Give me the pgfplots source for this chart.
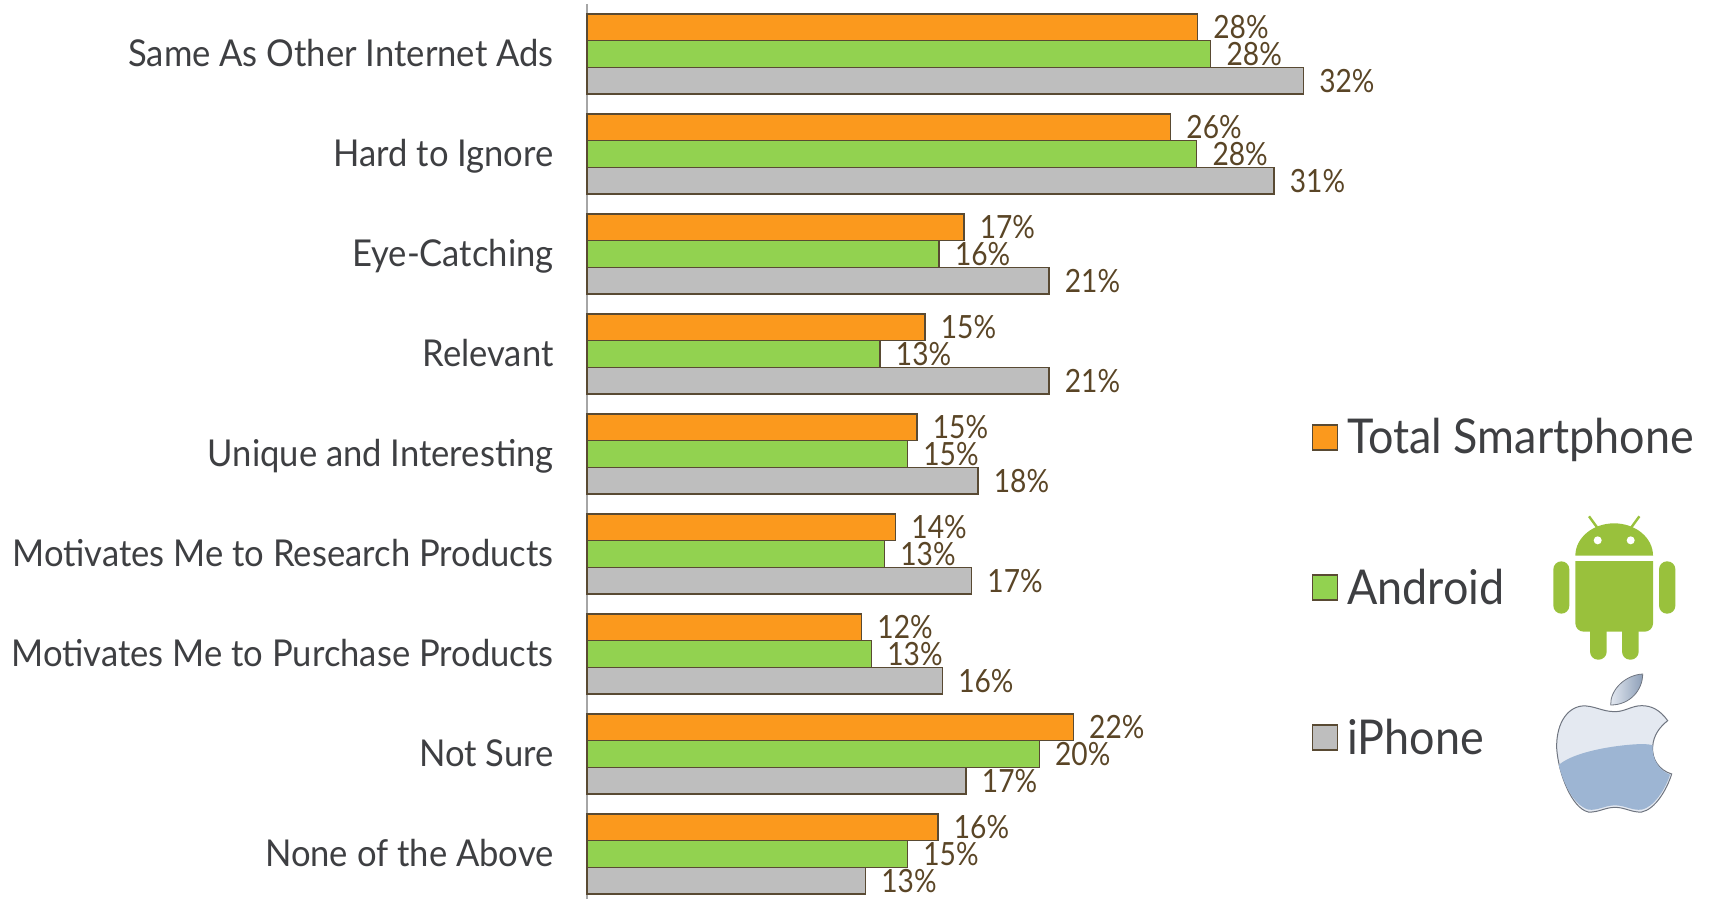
\documentclass[border=0pt]{standalone}
\usepackage{fontspec}
\setmainfont{Lato}
\newfontfamily\narrowfont[FakeStretch=0.935]{Lato}
\newfontfamily\valuefont[FakeStretch=0.88]{Lato}
\usepackage{pgfplots}
\pgfplotsset{compat=1.18}
\definecolor{barorange}{HTML}{FB991D}
\definecolor{bargreen}{HTML}{92D250}
\definecolor{bargray}{HTML}{BEBEBE}
\definecolor{baredge}{HTML}{594A33}
\definecolor{valuebrown}{HTML}{5A4526}
\definecolor{labelgray}{HTML}{3E3F42}
\definecolor{robot}{HTML}{99C13C}
\definecolor{applelow}{HTML}{9DB5D3}
\definecolor{applehigh}{HTML}{E4E9F1}
\definecolor{appleedge}{HTML}{6F7580}
\definecolor{leafdark}{HTML}{8D9FB8}
\pgfplotsset{
  swatch/.style={legend image code/.code={
    \draw[##1,line width=0.9pt] (0pt,-6pt) rectangle (12.5pt,6.5pt);
    \path[draw=none,fill=none] (0pt,0pt) -- (15.5pt,0pt);}},
}
\begin{document}
\begin{tikzpicture}
\useasboundingbox (0,0) rectangle (856pt,449.5pt);
\begin{axis}[
  at={(293.5pt,0pt)}, anchor=south west,
  scale only axis, width=386.8pt, height=447.5pt,
  xmin=0, xmax=35, ymin=-0.5, ymax=8.45,
  y dir=reverse, clip=false,
  axis x line=none, axis y line*=left,
  axis line style={draw=black!35, line width=1.2pt, -},
  xbar, bar width=13.35pt,
  ytick={0,...,8}, major tick length=0pt,
  yticklabels={Same As Other Internet Ads, Hard to Ignore, Eye-Catching, Relevant,
    Unique and Interesting, Motivates Me to Research Products,
    Motivates Me to Purchase Products, Not Sure, None of the Above},
  yticklabel style={font=\narrowfont\fontsize{18.5}{22}\selectfont, text=labelgray, inner xsep=0pt, xshift=-16.5pt, yshift=-1.1pt, text height=13.4pt, text depth=3.6pt},
  point meta=x,
  nodes near coords={\pgfmathprintnumber[fixed,precision=0,assume math mode=true]{\pgfplotspointmeta}\%},
  nodes near coords style={font=\valuefont\fontsize{16}{18}\selectfont, text=valuebrown, anchor=west, inner xsep=7.6pt, inner ysep=0pt, text height=11.5pt, text depth=0pt},
  legend cell align=left,
  legend style={draw=none, fill=none, at={(axis description cs:0.936,0.3475)}, anchor=west,
    font=\narrowfont\fontsize{24}{28}\selectfont, text=labelgray,
    row sep=52pt, inner sep=0pt},
]
\addplot+[bar shift=13.35pt, fill=barorange, draw=baredge, line width=0.7pt, swatch] coordinates {
  (27.62,0) (26.40,1) (17.05,2) (15.29,3) (14.93,4) (13.96,5) (12.42,6) (22.00,7) (15.88,8)};
\addplot+[bar shift=0pt, fill=bargreen, draw=baredge, line width=0.7pt, swatch] coordinates {
  (28.22,0) (27.58,1) (15.93,2) (13.26,3) (14.50,4) (13.46,5) (12.87,6) (20.46,7) (14.50,8)};
\addplot+[bar shift=-13.35pt, fill=bargray, draw=baredge, line width=0.7pt, swatch] coordinates {
  (32.41,0) (31.08,1) (20.90,2) (20.90,3) (17.69,4) (17.40,5) (16.08,6) (17.15,7) (12.60,8)};
\legend{Total Smartphone, Android, iPhone}
\end{axis}
% Platform logos beside the legend, drawn on a fine grid
\begin{scope}[x=0.16667pt, y=-0.16667pt, shift={(645pt,249.5pt)}]
  % Android robot
  \fill[robot] (856,467) arc[start angle=180, end angle=360, x radius=116.5, y radius=97] -- cycle;
  \fill[robot] (856,483) -- (1089,483) -- (1089,670) arc[start angle=0,end angle=90,radius=25] -- (881,695) arc[start angle=90,end angle=180,radius=25] -- cycle;
  \fill[robot, rounded corners=4pt] (790,484) rectangle (838,641);
  \fill[robot, rounded corners=4pt] (1107,484) rectangle (1156,641);
  \fill[robot, rounded corners=4pt] (900,660) rectangle (950,779);
  \fill[robot, rounded corners=4pt] (996,660) rectangle (1046,779);
  \draw[robot, line width=1.2pt] (921,382) -- (897,349);
  \draw[robot, line width=1.2pt] (1024,382) -- (1048,349);
  \fill[white] (923,421) circle[radius=12];
  \fill[white] (1022,421) circle[radius=12];
  % Apple body
  \path[fill=applehigh, draw=appleedge, line width=0.5pt]
    (975,935) .. controls (935,935) and (910,915) .. (875,918)
    .. controls (825,925) and (798,980) .. (800,1045)
    .. controls (805,1120) and (845,1225) .. (895,1236)
    .. controls (925,1238) and (945,1222) .. (975,1222)
    .. controls (1005,1222) and (1025,1238) .. (1055,1236)
    .. controls (1095,1228) and (1130,1170) .. (1145,1122)
    .. controls (1105,1110) and (1085,1075) .. (1088,1040)
    .. controls (1090,1005) and (1110,980) .. (1133,962)
    .. controls (1110,930) and (1085,917) .. (1055,917)
    .. controls (1025,917) and (1005,935) .. (975,935) -- cycle;
  \fill[applelow]
    (806,1095) .. controls (840,1065) and (920,1045) .. (1000,1036)
    .. controls (1040,1032) and (1070,1030) .. (1088,1036)
    .. controls (1085,1075) and (1105,1110) .. (1140,1124)
    .. controls (1125,1170) and (1090,1222) .. (1055,1229)
    .. controls (1025,1232) and (1005,1216) .. (975,1216)
    .. controls (945,1216) and (925,1232) .. (895,1229)
    .. controls (850,1215) and (820,1150) .. (806,1095) -- cycle;
  % Apple leaf
  \path[left color=applehigh, right color=leafdark, draw=appleedge, line width=0.4pt]
    (962,915) .. controls (960,870) and (1005,825) .. (1058,822)
    .. controls (1058,870) and (1020,915) .. (962,915) -- cycle;
\end{scope}
\end{tikzpicture}
\end{document}
